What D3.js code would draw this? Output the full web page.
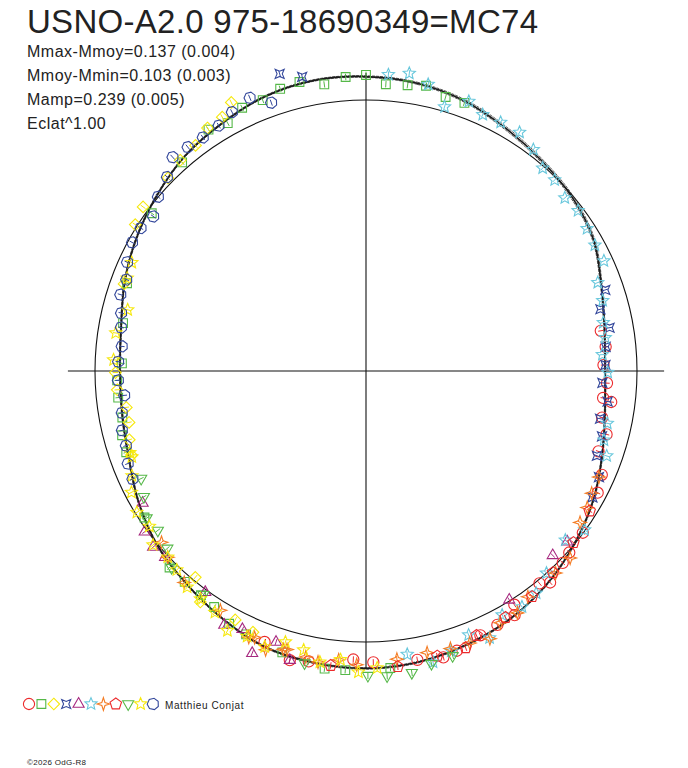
<!DOCTYPE html>
<html><head><meta charset="utf-8">
<script src="https://cdn.jsdelivr.net/npm/d3@7/dist/d3.min.js"></script>
<style>body{margin:0;background:#fff}svg{display:block}</style>
</head><body><svg id="c" width="688" height="768"></svg>
<script>
// ---------------- data ----------------
const titleText = "USNO-A2.0 975-18690349=MC74";
const statsLines = ["Mmax-Mmoy=0.137 (0.004)", "Mmoy-Mmin=0.103 (0.003)", "Mamp=0.239 (0.005)", "Eclat^1.00"];
const authorText = "Matthieu Conjat";
const creditText = "\u00A92026 OdG-R8";

// fitted light curve (phase, magnitude relative to Mmoy)
const fitPhase = [0.000,0.028,0.056,0.083,0.111,0.139,0.167,0.194,0.222,0.250,0.278,0.306,0.333,0.361,0.389,0.417,0.444,0.472,0.500,0.528,0.556,0.583,0.611,0.639,0.667,0.694,0.722,0.750,0.778,0.806,0.833,0.861,0.889,0.917,0.944,0.972];
const fitMag   = [-0.090,-0.082,-0.064,-0.036,-0.012,0.006,0.034,0.085,0.122,0.136,0.120,0.082,0.038,0.000,-0.035,-0.062,-0.080,-0.095,-0.101,-0.097,-0.088,-0.060,-0.030,-0.004,0.035,0.076,0.098,0.105,0.093,0.057,0.024,-0.008,-0.040,-0.061,-0.083,-0.093];
const fitErr   = [0.003,0.004,0.005,0.006,0.006,0.006,0.005,0.004,0.003,0.003,0.003,0.003,0.003,0.003,0.003,0.003,0.003,0.003,0.003,0.003,0.003,0.003,0.003,0.003,0.003,0.003,0.003,0.003,0.003,0.003,0.003,0.003,0.003,0.003,0.003,0.003];

const seriesSymbols = ["circle","square","diamond","star4c","triangle","star5","star4","pentagon","triangleDown","star5","heptagon"];
const seriesColors  = ["#ec2a2c","#55b848","#f6e80c","#33479b","#a6287f","#68c7dc","#f47b22","#ec2a2c","#55b848","#f6e80c","#33479b"];
const seriesErr     = [0.012,0.012,0.012,0.012,0.012,0.012,0.012,0.012,0.012,0.012,0.012];

// observations per series: [phase, magnitude relative to Mmoy]
const s0 = [[0.223,0.140],[0.234,0.128],[0.246,0.143],[0.258,0.126],[0.268,0.138],[0.270,0.100],[0.281,0.129],[0.291,0.093],[0.303,0.105],[0.316,0.055],[0.327,0.038],[0.352,0.002],[0.366,-0.006],[0.373,-0.015],[0.386,-0.037],[0.391,-0.013],[0.410,-0.023],[0.413,-0.058],[0.424,-0.058],[0.435,-0.066],[0.450,-0.089],[0.458,-0.098],[0.472,-0.086],[0.496,-0.079],[0.507,-0.069],[0.531,-0.096],[0.541,-0.107],[0.557,-0.071]];
const s1 = [[0.930,-0.077],[0.942,-0.073],[0.953,-0.092],[0.964,-0.098],[0.977,-0.072],[0.989,-0.091],[0.000,-0.096],[0.011,-0.064],[0.023,-0.069],[0.033,-0.079],[0.045,-0.056],[0.056,-0.057],[0.919,-0.050],[0.908,-0.067],[0.885,-0.028],[0.851,0.020],[0.806,0.068],[0.781,0.098],[0.755,0.113],[0.744,0.092],[0.733,0.091],[0.720,0.096],[0.709,0.078],[0.698,0.074],[0.657,0.022],[0.625,-0.027],[0.613,-0.028],[0.601,-0.029],[0.591,-0.038],[0.579,-0.064],[0.568,-0.071],[0.546,-0.087],[0.522,-0.112],[0.511,-0.110],[0.487,-0.103]];
const s2 = [[0.926,-0.112],[0.918,-0.080],[0.908,-0.074],[0.897,-0.046],[0.885,-0.039],[0.873,-0.022],[0.851,-0.023],[0.840,-0.009],[0.805,0.057],[0.749,0.085],[0.738,0.090],[0.726,0.121],[0.716,0.121],[0.705,0.103],[0.695,0.092],[0.610,0.013],[0.599,-0.052],[0.577,-0.040],[0.565,-0.053]];
const s3 = [[0.955,-0.144],[0.966,-0.114],[0.198,0.076],[0.209,0.121],[0.222,0.099],[0.234,0.128],[0.246,0.134],[0.258,0.147],[0.270,0.116],[0.282,0.137],[0.293,0.110],[0.306,0.105],[0.318,0.062],[0.331,0.048]];
const s4 = [[0.665,0.047],[0.650,-0.010],[0.640,-0.021],[0.631,-0.012],[0.600,-0.010],[0.581,-0.077],[0.571,-0.060],[0.561,-0.126],[0.551,-0.057],[0.541,-0.107],[0.374,0.035],[0.411,0.004],[0.362,0.029]];
const s5 = [[0.012,-0.100],[0.023,-0.113],[0.034,-0.086],[0.046,-0.018],[0.058,-0.068],[0.068,-0.042],[0.079,-0.046],[0.091,-0.050],[0.103,-0.026],[0.114,0.008],[0.124,0.010],[0.136,0.030],[0.147,0.021],[0.159,0.033],[0.170,0.040],[0.181,0.036],[0.192,0.096],[0.204,0.101],[0.218,0.122],[0.228,0.125],[0.239,0.146],[0.251,0.124],[0.284,0.101],[0.295,0.097],[0.304,0.065],[0.350,0.003],[0.362,0.039],[0.384,0.000],[0.396,-0.035],[0.407,-0.046],[0.419,-0.033],[0.431,-0.089],[0.441,-0.048],[0.453,-0.084],[0.477,-0.060],[0.464,-0.106]];
const s6 = [[0.318,0.062],[0.329,0.059],[0.338,0.045],[0.348,0.036],[0.368,-0.023],[0.380,-0.024],[0.401,-0.027],[0.411,-0.056],[0.422,-0.056],[0.431,-0.092],[0.442,-0.078],[0.453,-0.074],[0.466,-0.067],[0.483,-0.073],[0.505,-0.088],[0.515,-0.074],[0.526,-0.092],[0.533,-0.082],[0.544,-0.072],[0.555,-0.097],[0.563,-0.069],[0.639,0.017],[0.630,-0.004],[0.613,-0.031],[0.587,-0.036],[0.566,-0.077],[0.546,-0.075]];
const s7 = [[0.339,0.029],[0.360,0.007],[0.381,-0.016],[0.399,-0.036],[0.418,-0.048],[0.445,-0.089],[0.437,-0.061],[0.461,-0.088],[0.483,-0.101],[0.519,-0.098]];
const s8 = [[0.679,0.091],[0.668,0.065],[0.656,0.028],[0.646,0.036],[0.634,0.019],[0.624,-0.022],[0.600,-0.022],[0.533,-0.105],[0.499,-0.127],[0.489,-0.131],[0.476,-0.129],[0.465,-0.110],[0.453,-0.102]];
const s9 = [[0.694,0.090],[0.683,0.060],[0.674,0.028],[0.662,0.007],[0.651,0.018],[0.641,-0.016],[0.630,-0.004],[0.621,-0.014],[0.610,-0.038],[0.600,-0.042],[0.589,-0.054],[0.578,-0.090],[0.567,-0.077],[0.556,-0.088],[0.546,-0.046],[0.535,-0.058],[0.525,-0.091],[0.514,-0.073],[0.504,-0.115],[0.494,-0.100],[0.790,0.105],[0.774,0.074],[0.757,0.076],[0.697,0.088],[0.819,0.053],[0.809,0.061]];
const s10 = [[0.936,-0.099],[0.946,-0.053],[0.924,-0.079],[0.914,-0.059],[0.903,-0.054],[0.893,-0.059],[0.883,-0.067],[0.873,-0.027],[0.861,-0.001],[0.850,0.033],[0.840,0.017],[0.830,0.017],[0.818,0.035],[0.808,0.060],[0.798,0.057],[0.787,0.081],[0.778,0.093],[0.766,0.108],[0.756,0.097],[0.744,0.096],[0.734,0.119],[0.723,0.098],[0.712,0.083],[0.702,0.082],[0.691,0.064],[0.681,0.057]];
const seriesData = [s0,s1,s2,s3,s4,s5,s6,s7,s8,s9,s10];

// ---------------- drawing ----------------
const W = 688, H = 768;
const cx = 366, cy = 371, R = 271;
const svg = d3.select("#c");
const FONT = "'Liberation Sans', Arial, Helvetica, sans-serif";

const flux = m => Math.pow(10, -0.4 * m);      // brightness^1.00
const rScale = d3.scaleLinear().domain([0, 1]).range([0, R]);
const aScale = d3.scaleLinear().domain([0, 1]).range([0, 2 * Math.PI]);
const rad = m => rScale(flux(m));

const g = svg.append("g").attr("transform", `translate(${cx},${cy})`);

// axes
const axLen = rScale(1.1);
g.append("line").attr("x1", -axLen).attr("x2", axLen).attr("y1", 0).attr("y2", 0)
  .attr("stroke", "#111").attr("stroke-width", 1.1);
g.append("line").attr("y1", -axLen).attr("y2", axLen).attr("x1", 0).attr("x2", 0)
  .attr("stroke", "#111").attr("stroke-width", 1.1);

// mean-brightness circle
g.append("circle").attr("r", rScale(1)).attr("fill", "none").attr("stroke", "#111").attr("stroke-width", 1.1);

// fitted curve and envelope
const fit = fitPhase.map((p, i) => ({p, m: fitMag[i], e: fitErr[i]}));
const radial = acc => d3.lineRadial().angle(d => aScale(d.p)).radius(acc).curve(d3.curveCatmullRomClosed);
g.append("path").attr("d", radial(d => rad(d.m - d.e))(fit)).attr("fill", "none")
  .attr("stroke", "#333").attr("stroke-width", 0.8).attr("stroke-dasharray", "3,1");
g.append("path").attr("d", radial(d => rad(d.m + d.e))(fit)).attr("fill", "none")
  .attr("stroke", "#333").attr("stroke-width", 0.8).attr("stroke-dasharray", "3,1");
g.append("path").attr("d", radial(d => rad(d.m))(fit)).attr("fill", "none")
  .attr("stroke", "#1a1a1a").attr("stroke-width", 1.7);

// symbols
function poly(n, r, rot) {
  const pts = d3.range(n).map(k => {
    const a = rot + k * 2 * Math.PI / n;
    return [r * Math.sin(a), -r * Math.cos(a)];
  });
  return "M" + pts.map(p => p[0].toFixed(2) + "," + p[1].toFixed(2)).join("L") + "Z";
}
function star(n, ro, ri) {
  const pts = d3.range(2 * n).map(k => {
    const a = k * Math.PI / n;
    const r = k % 2 ? ri : ro;
    return [r * Math.sin(a), -r * Math.cos(a)];
  });
  return "M" + pts.map(p => p[0].toFixed(2) + "," + p[1].toFixed(2)).join("L") + "Z";
}
const symbolPath = {
  circle: () => d3.arc()({innerRadius: 0, outerRadius: 5.6, startAngle: 0, endAngle: 2 * Math.PI}) ,
  square: () => poly(4, 6.2, Math.PI / 4),
  diamond: () => poly(4, 5.8, 0),
  star4c: () => { // concave 4-point star, corners on diagonals
    const pts = d3.range(8).map(k => {
      const a = Math.PI / 4 + k * Math.PI / 4;
      const r = k % 2 ? 2.6 : 6.4;
      return [r * Math.sin(a), -r * Math.cos(a)];
    });
    return "M" + pts.map(p => p[0].toFixed(2) + "," + p[1].toFixed(2)).join("L") + "Z";
  },
  triangle: () => poly(3, 6.4, 0),
  star5: () => star(5, 6.4, 2.9),
  star4: () => star(4, 6.4, 2.2),
  pentagon: () => poly(5, 6.0, 0),
  triangleDown: () => poly(3, 6.4, Math.PI),
  heptagon: () => poly(7, 5.8, 0.2)
};

// observations
seriesData.forEach((data, si) => {
  const col = seriesColors[si];
  const sg = g.append("g").attr("class", "series s" + si);
  const d = symbolPath[seriesSymbols[si]]();
  const e = seriesErr[si];
  data.forEach(([p, m]) => {
    const a = aScale(p);
    const [x, y] = d3.pointRadial(a, rad(m));
    const [x1, y1] = d3.pointRadial(a, rad(m - e));
    const [x2, y2] = d3.pointRadial(a, rad(m + e));
    sg.append("line").attr("x1", x1).attr("y1", y1).attr("x2", x2).attr("y2", y2)
      .attr("stroke", col).attr("stroke-width", 1);
    sg.append("path").attr("d", d).attr("transform", `translate(${x},${y})`)
      .attr("fill", "none").attr("stroke", col).attr("stroke-width", 1.1);
  });
});

// title & stats
svg.append("text").attr("x", 27).attr("y", 33).text(titleText)
  .attr("font-family", FONT).attr("font-size", 33).attr("fill", "#222")
  .attr("textLength", 511).attr("lengthAdjust", "spacing");
svg.selectAll("text.stat").data(statsLines).join("text").attr("class", "stat")
  .attr("x", 27).attr("y", (d, i) => 57 + i * 24).text(d => d)
  .attr("font-family", FONT).attr("font-size", 16).attr("letter-spacing", 0.5).attr("fill", "#222");

// legend
const lx = d3.scaleLinear().domain([0, seriesSymbols.length - 1]).range([29, 153]);
const leg = svg.append("g");
seriesSymbols.forEach((s, i) => {
  leg.append("path").attr("d", symbolPath[s]()).attr("transform", `translate(${lx(i)},704)`)
    .attr("fill", "none").attr("stroke", seriesColors[i]).attr("stroke-width", 1.1);
});
svg.append("text").attr("x", 165).attr("y", 709).text(authorText)
  .attr("font-family", FONT).attr("font-size", 10).attr("letter-spacing", 0.6).attr("fill", "#222");
svg.append("text").attr("x", 27).attr("y", 765).text(creditText)
  .attr("font-family", FONT).attr("font-size", 8).attr("letter-spacing", 0.3).attr("fill", "#222");
</script>
</body></html>
